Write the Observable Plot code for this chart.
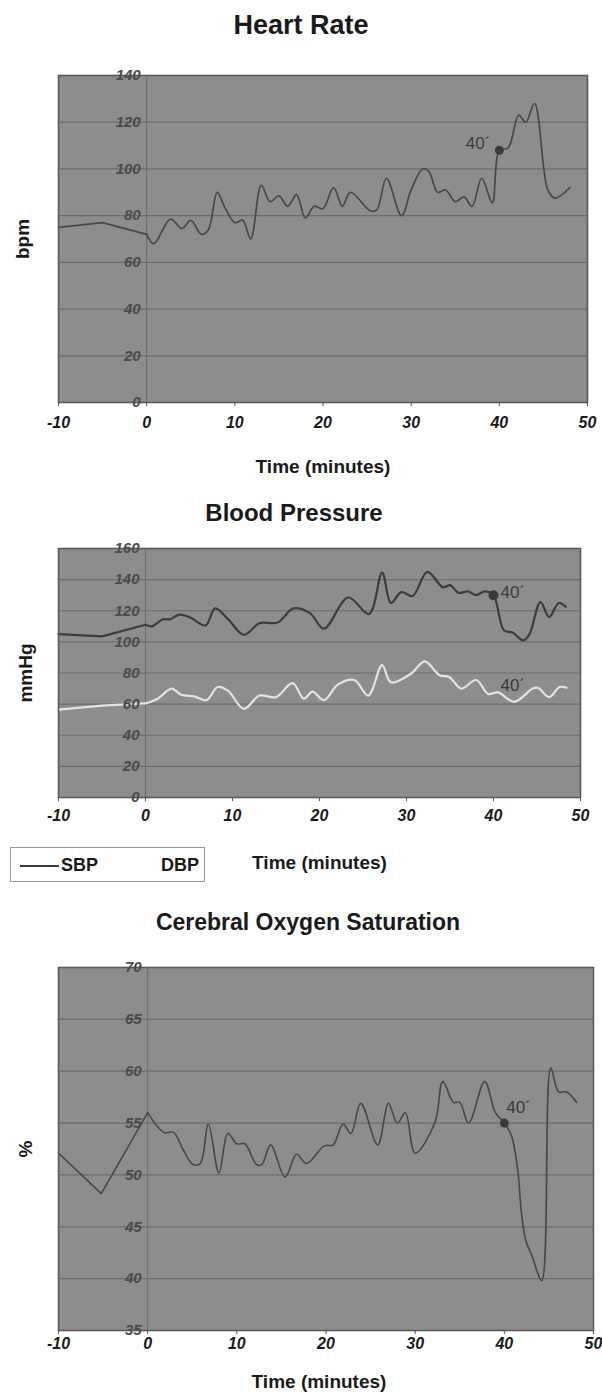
<!DOCTYPE html>
<html><head><meta charset="utf-8">
<script src="https://cdn.jsdelivr.net/npm/d3@7"></script>
<script src="https://cdn.jsdelivr.net/npm/@observablehq/plot@0.6"></script>
<style>
body{margin:0;background:#fff;font-family:"Liberation Sans",Arial,sans-serif;}
#page{position:relative;width:602px;height:1393px;overflow:hidden;background:#fff;}
.title{position:absolute;left:0;width:602px;text-align:center;font-weight:bold;color:#1a1a1a;white-space:nowrap;}
.legend{position:absolute;left:10px;top:847px;width:195px;height:35px;border:1px solid #9a9a9a;box-sizing:border-box;font-weight:bold;font-size:18px;color:#1a1a1a;}
.legend span{position:absolute;}
</style></head><body><div id="page"></div>
<script>
// ---------- data ----------
const xTicks = [-10, 0, 10, 20, 30, 40, 50];

// Heart Rate
const hrTime = [-10, -5, 0, 0.8, 2.7, 4, 5, 6.2, 7, 8, 8.8, 10, 10.9, 11.8, 13, 14, 15, 16, 17, 18, 19, 20, 21.2, 22.2, 23.1, 25.4, 26.1, 27.2, 28.9, 30, 31.3, 32, 33, 33.9, 35, 36, 36.9, 38, 39.2, 40, 41, 42.2, 43, 44, 45.5, 46.3, 48];
const hrBpm  = [75, 77, 72, 68, 78.5, 74.5, 78, 72, 74, 90, 84, 77, 78, 70, 93, 86, 88.5, 84, 89, 79, 84, 83, 92, 84, 90, 82, 82.5, 96, 80, 91, 100, 99, 90, 91, 86, 88, 84, 96, 85.5, 108, 109, 123, 120, 128, 91, 87.5, 92];
const hrTicks = [0, 20, 40, 60, 80, 100, 120, 140];
const hrMarkTime = [40], hrMarkValue = [108], hrMarkText = ["40´"];

// Blood Pressure
const sbpTime = [-10, -5, 0, 0.7, 2, 2.8, 3.9, 5.2, 6.9, 8, 9.5, 11.3, 13.1, 15.2, 17, 18.9, 20.5, 23.3, 25.7, 27.2, 28.2, 29.4, 30.7, 32.4, 34.2, 35, 36, 37.1, 38, 39, 40, 41.2, 42.2, 43.4, 44.1, 45.4, 46.4, 47.5, 48.3];
const sbpValue = [105, 103.5, 111, 110, 114.5, 114.5, 117.5, 115.5, 110.5, 121.5, 114.5, 104.5, 112, 112.5, 121.5, 118.5, 108.5, 128.5, 118, 144.5, 125, 132, 129.5, 145, 135, 136.5, 131.5, 132.5, 130, 132.5, 130, 107.5, 106, 101, 104.5, 125.5, 116, 125, 122.5];
const dbpTime = [-10, -5, 0, 1.4, 3, 4.1, 5.6, 7, 8.3, 9.5, 11.3, 13.1, 15, 16.9, 18.2, 19.2, 20.5, 22.1, 24, 25.6, 27.2, 28.2, 30.5, 32.1, 33.8, 34.9, 36.3, 38, 39.4, 40.5, 42.4, 44.5, 45.1, 46.4, 47.6, 48.4];
const dbpValue = [56.5, 59, 60.5, 63.5, 70, 66, 65, 62.5, 71, 68.5, 57, 65.5, 64.5, 73.5, 63.5, 68, 62.5, 72.5, 75.5, 65.5, 85, 74, 79.5, 87.5, 78.5, 77.5, 70, 75.5, 66.5, 67.5, 61.5, 70, 70.5, 64.5, 71, 70.5];
const bpTicks = [0, 20, 40, 60, 80, 100, 120, 140, 160];
const sbpMarkTime = [40], sbpMarkValue = [130];
const bpNoteTime = [40, 40], bpNoteValue = [132, 72], bpNoteText = ["40´", "40´"];
const bpSeries = ["SBP", "DBP"];

// Cerebral Oxygen Saturation
const cosTime = [-10, -5.2, 0, 1.8, 2.9, 4, 5.1, 5.9, 6.8, 8, 9, 10, 10.9, 12.2, 12.8, 13.8, 15.4, 16.7, 17.8, 19.8, 20.8, 21.9, 22.8, 23.9, 25.8, 27, 28, 28.9, 30, 32.2, 33.1, 34.3, 35, 36, 37.8, 39, 40, 40.8, 41.5, 41.9, 42.4, 43.1, 44.2, 45.2, 46.1, 47, 48.1];
const cosValue = [52.1, 48.2, 56, 54.1, 54.1, 52.4, 51, 51.1, 54.9, 50.2, 54, 53, 53, 51, 51, 52.9, 49.8, 52, 51.1, 52.8, 52.9, 54.9, 54, 56.9, 52.9, 56.9, 55, 56, 52.1, 55, 59, 57, 57, 55, 59, 56, 55, 53.8, 50.5, 46.5, 43.7, 42.2, 39.8, 60.3, 58, 58, 57];
const cosTicks = [35, 40, 45, 50, 55, 60, 65, 70];
const cosMarkTime = [40], cosMarkValue = [55], cosMarkText = ["40´"];

// ---------- styling ----------
const BG = "#8d8d8d", GRID = "#6c6c6c", BORDER = "#5a5a5a", LINE = "#474747", DOT = "#3a3a3a";
const FONT = "Liberation Sans, Arial, sans-serif";
const page = document.getElementById("page");

const zipTV = (t, v) => t.map((d, i) => ({t: d, v: v[i]}));

// baseline segment (t <= 0) drawn straight, monitored segment (t >= 0) smoothed
function seriesLine(t, v, opts) {
  const rows = zipTV(t, v);
  return [
    Plot.line(rows.filter(d => d.t <= 0), {x: "t", y: "v", ...opts, curve: "linear"}),
    Plot.line(rows.filter(d => d.t >= 0), {x: "t", y: "v", ...opts, curve: "catmull-rom"})
  ];
}

function addTitle(text, size, cy, cx) {
  const d = document.createElement("div");
  d.className = "title";
  d.textContent = text;
  d.style.fontSize = size + "px";
  d.style.lineHeight = size + "px";
  d.style.top = (cy - 0.49 * size) + "px";
  d.style.transform = `translateX(${cx - 301}px)`;
  page.append(d);
}

function chart(o) {
  const p = Plot.plot({
    width: 602, height: o.height,
    marginTop: o.mt, marginBottom: o.mb, marginLeft: 58, marginRight: o.mr,
    x: {domain: [-10, 50]},
    y: {domain: o.yDomain, axis: null},
    style: {fontFamily: FONT, background: "transparent", color: "#1a1a1a", overflow: "visible"},
    marks: [
      Plot.frame({fill: BG, stroke: "none"}),
      Plot.ruleY(o.yTicks, {y: d => d, stroke: GRID, strokeWidth: 1.2}),
      Plot.ruleX([0], {x: d => d, stroke: GRID, strokeWidth: 1}),
      ...o.marks,
      Plot.frame({stroke: BORDER, strokeWidth: 1.6}),
      Plot.text(o.yTicks, {x: d => 0, y: d => d, text: d => String(d), textAnchor: "end", dx: -6,
        fontStyle: "italic", fontWeight: "bold", fontSize: 15, fill: "#4a4a4a"}),
      Plot.axisX({ticks: xTicks, tickSize: 4, tickPadding: o.tickPad, label: null, tickFormat: d => String(d),
        fontStyle: "italic", fontWeight: "bold", fontSize: 16, stroke: "#555"}),
      Plot.text(["Time (minutes)"], {text: d => d, frameAnchor: "bottom", dy: o.xTitleDy, dx: o.xTitleDx || 0,
        lineAnchor: "middle", textAnchor: "middle", fontWeight: "bold", fontSize: 19, fill: "#1a1a1a"}),
      Plot.text([o.yTitle], {text: d => d, frameAnchor: "left", dx: o.yTitleDx, rotate: -90,
        lineAnchor: "middle", textAnchor: "middle", fontWeight: "bold", fontSize: 19, fill: "#1a1a1a"})
    ]
  });
  p.style.position = "absolute";
  p.style.left = "0px";
  p.style.top = o.top + "px";
  page.append(p);
}

// ---------- Heart Rate ----------
addTitle("Heart Rate", 27, 25, 301);
chart({
  top: 50, height: 430, mt: 25, mb: 78, mr: 15,
  yDomain: [0, 140], yTicks: hrTicks, tickPad: 10, xTitleDy: 64, yTitleDx: -36, yTitle: "bpm",
  marks: [
    ...seriesLine(hrTime, hrBpm, {stroke: LINE, strokeWidth: 1.7}),
    Plot.dot(zipTV(hrMarkTime, hrMarkValue), {x: "t", y: "v", r: 4.5, fill: DOT, stroke: "none"}),
    Plot.text(hrMarkTime.map((t, i) => ({t, v: hrMarkValue[i] + 3, s: hrMarkText[i]})),
      {x: "t", y: "v", text: "s", textAnchor: "end", dx: -9, fontSize: 17, fill: "#3a3a3a"})
  ]
});

// ---------- Blood Pressure ----------
addTitle("Blood Pressure", 24, 513, 294);
chart({
  top: 530, height: 360, mt: 18, mb: 93, mr: 22,
  yDomain: [0, 160], yTicks: bpTicks, tickPad: 8, xTitleDy: 65, yTitleDx: -33, yTitle: "mmHg",
  marks: [
    ...seriesLine(sbpTime, sbpValue, {stroke: "#3c3c3c", strokeWidth: 2.2}),
    ...seriesLine(dbpTime, dbpValue, {stroke: "#e4e4e4", strokeWidth: 2.2}),
    Plot.dot(zipTV(sbpMarkTime, sbpMarkValue), {x: "t", y: "v", r: 5, fill: DOT, stroke: "none"}),
    Plot.text(bpNoteTime.map((t, i) => ({t, v: bpNoteValue[i], s: bpNoteText[i]})),
      {x: "t", y: "v", text: "s", textAnchor: "start", dx: 7, fontSize: 17, fill: "#3a3a3a"})
  ]
});
// legend
const lg = document.createElement("div");
lg.className = "legend";
lg.innerHTML = `<span style="left:9px;top:17px;width:39px;height:2px;background:#3c3c3c"></span>
<span style="left:50px;top:7px;line-height:20px">${bpSeries[0]}</span>
<span style="left:150px;top:7px;line-height:20px">${bpSeries[1]}</span>`;
page.append(lg);

// ---------- Cerebral Oxygen Saturation ----------
addTitle("Cerebral Oxygen Saturation", 23, 922, 308);
chart({
  top: 945, height: 448, mt: 22, mb: 63, mr: 9,
  yDomain: [35, 70], yTicks: cosTicks, tickPad: 3, xTitleDy: 51, xTitleDx: -7, yTitleDx: -33, yTitle: "%",
  marks: [
    ...seriesLine(cosTime, cosValue, {stroke: LINE, strokeWidth: 1.6}),
    Plot.dot(zipTV(cosMarkTime, cosMarkValue), {x: "t", y: "v", r: 4.5, fill: DOT, stroke: "none"}),
    Plot.text(cosMarkTime.map((t, i) => ({t, v: cosMarkValue[i] + 1.5, s: cosMarkText[i]})),
      {x: "t", y: "v", text: "s", textAnchor: "start", dx: 2, fontSize: 17, fill: "#3a3a3a"})
  ]
});
</script>
</body></html>
